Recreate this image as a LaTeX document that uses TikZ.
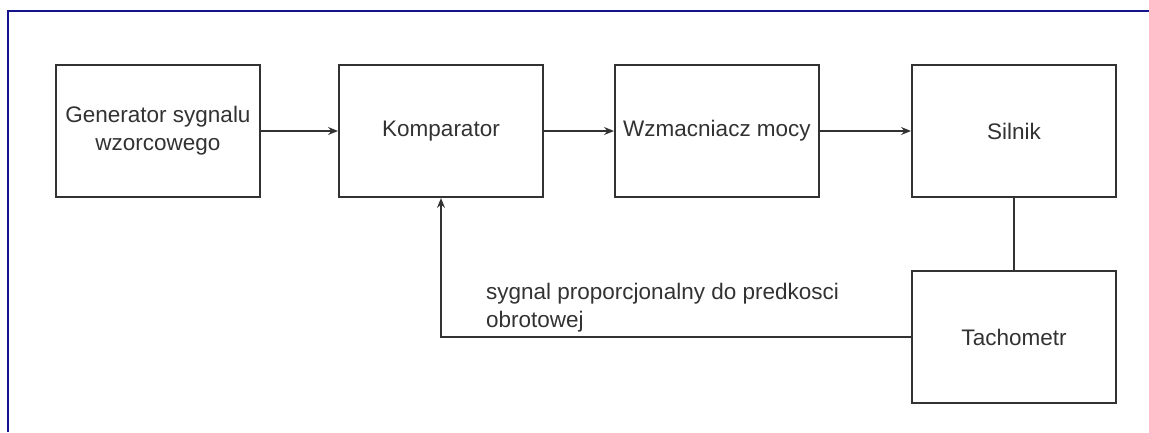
\documentclass[tikz,border=0pt]{standalone}
\usepackage{fontspec}
\setmainfont{Liberation Sans}
\usepackage{xcolor}
\usepackage{tikz}
\usetikzlibrary{arrows.meta,positioning,calc}

\definecolor{framecol}{RGB}{20,20,140}
\definecolor{inkcol}{RGB}{50,50,50}

\begin{document}
\begin{tikzpicture}[
  x=1pt, y=-1pt,
  >={Stealth[length=10pt, width=8pt, inset=3.5pt]},
  every node/.style={font=\fontsize{22.5}{28}\selectfont, text=inkcol},
  block/.style={draw=inkcol, line width=2pt, rectangle, align=center,
                minimum width=204pt, minimum height=132pt, inner sep=0pt},
  arrow/.style={->, draw=inkcol, line width=1.8pt},
  link/.style={draw=inkcol, line width=1.8pt}
]
\useasboundingbox (0,0) rectangle (1149,432);

% frame (top and left edge only)
\draw[framecol, line width=2.5pt] (8,432) -- (8,11) -- (1149,11);

\node[block] (gen)   at (158,131)          {Generator sygnalu \\ wzorcowego};
\node[block] (komp)  [right=77pt of gen]   {Komparator};
\node[block] (wzm)   [right=70pt of komp]  {Wzmacniacz mocy};
\node[block] (siln)  [right=91pt of wzm]   {Silnik};
\node[block] (tacho) [below=72pt of siln]  {Tachometr};

\draw[arrow] (gen)  -- (komp);
\draw[arrow] (komp) -- (wzm);
\draw[arrow] (wzm)  -- (siln);
\draw[link]  (siln) -- (tacho);

% Feedback path
\coordinate (bend) at (komp.south |- tacho.west);
\draw[arrow] (tacho.west) -- (bend) -- (komp.south);
\node (fbtext) [anchor=south west, align=left, inner sep=0pt]
      at ([xshift=45pt, yshift=5pt]bend)
      {sygnal proporcjonalny do predkosci \\ obrotowej};
\end{tikzpicture}
\end{document}
